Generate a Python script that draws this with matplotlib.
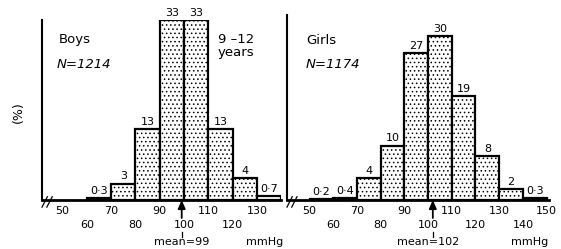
import matplotlib
matplotlib.use("Agg")
import matplotlib.pyplot as plt

plt.rcParams['font.family'] = ['DejaVu Sans']
plt.rcParams['hatch.linewidth'] = 0.6

# ---- data ----
boys_bins = [60, 70, 80, 90, 100, 110, 120, 130]
boys_pct = [0.3, 3, 13, 33, 33, 13, 4, 0.7]
boys_labels = ["0·3", "3", "13", "33", "33", "13", "4", "0·7"]
boys_ticks_row1 = [50, 70, 90, 110, 130]
boys_ticks_row2 = [60, 80, 100, 120]
boys_mean = 99

girls_bins = [50, 60, 70, 80, 90, 100, 110, 120, 130, 140]
girls_pct = [0.2, 0.4, 4, 10, 27, 30, 19, 8, 2, 0.3]
girls_labels = ["0·2", "0·4", "4", "10", "27", "30", "19", "8", "2", "0·3"]
girls_ticks_row1 = [50, 70, 90, 110, 130, 150]
girls_ticks_row2 = [60, 80, 100, 120, 140]
girls_mean = 102

bin_width = 10

W, H = 561, 249
fig = plt.figure(figsize=(W / 100, H / 100), dpi=100)


def px_axes(l, r, top, bottom):
    return fig.add_axes([l / W, 1 - bottom / H, (r - l) / W, (bottom - top) / H])


PXU = 5.45  # px per % unit


def panel(ax, bins, pct, labels, row1, row2, mean, xlim, ylim):
    ax.set_xlim(*xlim)
    ax.set_ylim(*ylim)
    bars = ax.bar(bins, pct, width=bin_width, align='edge', facecolor='white',
                  edgecolor='black', hatch='....', linewidth=1.6, zorder=2)
    for b, p, lab in zip(bins, pct, labels):
        ax.text(b + bin_width / 2, p + 0.4, lab, ha='center', va='bottom',
                fontsize=8, clip_on=False)
    for s in ['top', 'right']:
        ax.spines[s].set_visible(False)
    ax.spines['left'].set_linewidth(1.5)
    ax.spines['bottom'].set_linewidth(2.0)
    ax.set_xticks([])
    ax.set_yticks([])
    for t in row1:
        ax.text(t, -11 / PXU, str(t), ha='center', va='center', fontsize=8,
                clip_on=False)
    for t in row2:
        ax.text(t, -25 / PXU, str(t), ha='center', va='center', fontsize=8,
                clip_on=False)
    ax.annotate('', xy=(mean, 0), xytext=(mean, -18 / PXU),
                arrowprops=dict(arrowstyle='-|>,head_length=0.5,head_width=0.22',
                                color='black', lw=1.3, shrinkA=0, shrinkB=0),
                annotation_clip=False)
    ax.plot([mean, mean], [-32 / PXU, -37 / PXU], color='black', lw=0.9,
            clip_on=False)
    x0 = xlim[0]
    for dx in (1.2, 3.2):
        ax.plot([x0 + dx - 1.2, x0 + dx + 1.0], [-1.3, 0.6], color='black',
                lw=0.9, clip_on=False)


axb = px_axes(42, 281, 20, 200)
panel(axb, boys_bins, boys_pct, boys_labels, boys_ticks_row1, boys_ticks_row2,
      boys_mean, (41.6, 139.8), (0, 33))
axb.text(boys_mean, -42 / PXU, 'mean=99', ha='center', va='center', fontsize=8,
         clip_on=False)
axb.text(133, -42 / PXU, 'mmHg', ha='center', va='center', fontsize=8,
         clip_on=False)

axg = px_axes(287, 549, 15, 200)
panel(axg, girls_bins, girls_pct, girls_labels, girls_ticks_row1,
      girls_ticks_row2, girls_mean, (40.5, 151.0), (0, 185 / PXU))
axg.text(girls_mean - 2, -42 / PXU, 'mean=102', ha='center', va='center',
         fontsize=8, clip_on=False)
axg.text(143, -42 / PXU, 'mmHg', ha='center', va='center', fontsize=8,
         clip_on=False)

# panel titles
fig.text(59 / W, 1 - 40 / H, 'Boys', fontsize=9.5, ha='left', va='center')
fig.text(57 / W, 1 - 64 / H, 'N=1214', fontsize=9.5, style='italic',
         ha='left', va='center')
fig.text(236 / W, 1 - 46 / H, '9 –12\nyears', fontsize=9.5, ha='center',
         va='center', linespacing=0.95)
fig.text(306 / W, 1 - 40 / H, 'Girls', fontsize=9.5, ha='left', va='center')
fig.text(306 / W, 1 - 64 / H, 'N=1174', fontsize=9.5, style='italic',
         ha='left', va='center')
fig.text(18 / W, 1 - 112 / H, '(%)', fontsize=9, rotation=90, ha='center',
         va='center')

fig.savefig('out.png', dpi=100)
